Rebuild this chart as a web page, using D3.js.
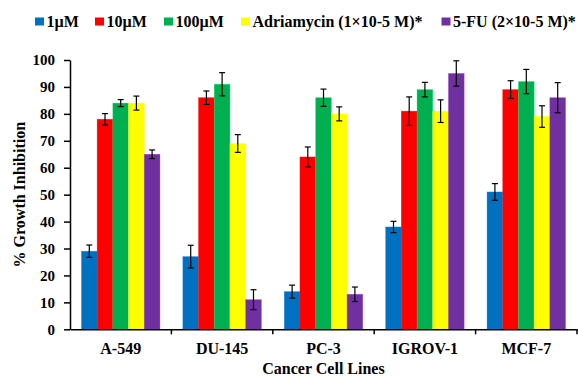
<!DOCTYPE html>
<html><head><meta charset="utf-8">
<script src="https://cdn.jsdelivr.net/npm/d3@7"></script>
<style>body{margin:0;background:#fff}svg{display:block}text{font-family:"Liberation Serif","Times New Roman",serif;font-weight:bold}</style>
</head><body><svg id="c" width="578" height="377"></svg>
<script>
const categories = ["A-549","DU-145","PC-3","IGROV-1","MCF-7"];
const seriesNames = ["1µM","10µM","100µM","Adriamycin (1×10-5 M)*","5-FU (2×10-5 M)*"];
const seriesColors = ["#0070C0","#FF0000","#00B050","#FFFF00","#7030A0"];
const v1uM   = [29,27,14,38,51];
const v10uM  = [78,86,64,81,89];
const v100uM = [84,91,86,89,92];
const vAdria = [84,69,80,81,79];
const v5FU   = [65,11,13,95,86];
const e1uM   = [2.3,4.2,2.4,2.1,3.1];
const e10uM  = [2.1,2.5,3.7,5.3,3.3];
const e100uM = [1.3,4.3,3.2,2.7,4.5];
const eAdria = [2.6,3.3,2.6,4.2,4.0];
const e5FU   = [1.6,3.7,2.7,4.7,5.6];
const yTicks = [0,10,20,30,40,50,60,70,80,90,100];

const values = [v1uM,v10uM,v100uM,vAdria,v5FU];
const errors = [e1uM,e10uM,e100uM,eAdria,e5FU];

const svg = d3.select("#c");
const L = 70, R = 577, T = 60, B = 329.3;
const x0 = d3.scaleBand().domain(categories).range([L,R]).paddingInner(0.226).paddingOuter(0.113);
const x1 = d3.scaleBand().domain(d3.range(5)).range([0,x0.bandwidth()]);
const y = d3.scaleLinear().domain([0,100]).range([B,T]);

// bars
categories.forEach((c,ci)=>{
  values.forEach((s,si)=>{
    const xx = x0(c)+x1(si), w = x1.bandwidth();
    svg.append("rect").attr("x",xx).attr("y",y(s[ci])).attr("width",w).attr("height",y(0)-y(s[ci]))
      .attr("fill",seriesColors[si]).attr("stroke",d3.color(seriesColors[si]).brighter(0.8)).attr("stroke-width",0.6).attr("stroke-opacity",0.6);
  });
});
// error bars
categories.forEach((c,ci)=>{
  values.forEach((s,si)=>{
    const cx = x0(c)+x1(si)+x1.bandwidth()/2;
    const hi = y(s[ci]+errors[si][ci]), lo = y(s[ci]-errors[si][ci]);
    const g = svg.append("g").attr("stroke","#000").attr("stroke-width",1.2);
    g.append("line").attr("x1",cx).attr("x2",cx).attr("y1",hi).attr("y2",lo);
    g.append("line").attr("x1",cx-3).attr("x2",cx+3).attr("y1",hi).attr("y2",hi);
    g.append("line").attr("x1",cx-3).attr("x2",cx+3).attr("y1",lo).attr("y2",lo);
  });
});

// y axis
const ya = svg.append("g").attr("transform",`translate(${L},0)`)
  .call(d3.axisLeft(y).tickValues(yTicks).tickSize(6).tickPadding(9).tickSizeOuter(0));
ya.select(".domain").attr("stroke","#000").attr("stroke-width",1.5);
ya.selectAll(".tick line").attr("stroke","#000").attr("stroke-width",1.5);
ya.selectAll(".tick text").attr("font-size",15).attr("fill","#000").attr("font-family","Liberation Serif").attr("font-weight","bold");

// x axis
const xa = svg.append("g").attr("transform",`translate(0,${B})`)
  .call(d3.axisBottom(x0).tickSize(0).tickPadding(13).tickSizeOuter(0));
xa.select(".domain").attr("stroke","#000").attr("stroke-width",1.5);
xa.selectAll(".tick text").attr("font-size",16).attr("fill","#000").attr("font-family","Liberation Serif").attr("font-weight","bold")
  .attr("dy",null).attr("y",25);
// boundary ticks
const bounds = d3.range(categories.length+1).map(i=> L + i*(R-L)/categories.length);
svg.append("g").selectAll("line").data(bounds.slice(1)).join("line")
  .attr("x1",d=>d).attr("x2",d=>d).attr("y1",B).attr("y2",B+5).attr("stroke","#000").attr("stroke-width",1.5);

// axis titles
svg.append("text").attr("transform",`translate(24.5,${(T+B)/2}) rotate(-90)`).attr("text-anchor","middle")
  .attr("font-size",16).text("% Growth Inhibition");
svg.append("text").attr("x",(L+R)/2).attr("y",374).attr("text-anchor","middle").attr("font-size",16).text("Cancer Cell Lines");

// legend
const legX = [35,95,164,241,441.5];
const lg = svg.append("g");
seriesNames.forEach((n,i)=>{
  lg.append("rect").attr("x",legX[i]).attr("y",17.5).attr("width",9).attr("height",8).attr("fill",seriesColors[i]);
  lg.append("text").attr("x",legX[i]+11.5).attr("y",26.7).attr("font-size",16).text(n);
});
</script></body></html>
